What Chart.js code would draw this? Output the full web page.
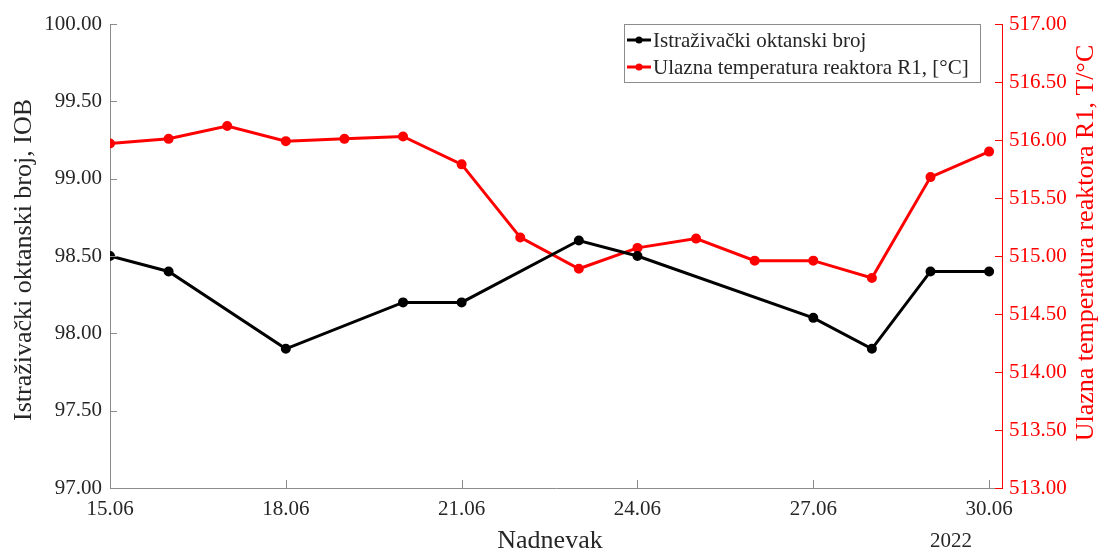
<!DOCTYPE html>
<html>
<head>
<meta charset="utf-8">
<script src="https://cdn.jsdelivr.net/npm/chart.js@4.4.1/dist/chart.umd.min.js"></script>
<style>
  html, body { margin: 0; padding: 0; background: #fff; }
  #wrap { width: 1105px; height: 552px; }
</style>
</head>
<body>
<div id="wrap"><canvas id="chart" width="1105" height="552"></canvas></div>
<script>
// podaci ocitani sa slike (dan u lipnju 2022.)
const iobDays = [15, 16, 18, 20, 21, 23, 24, 27, 28, 29, 30];
const iobValues = [98.5, 98.4, 97.9, 98.2, 98.2, 98.6, 98.5, 98.1, 97.9, 98.4, 98.4];
const tempDays = [15, 16, 17, 18, 19, 20, 21, 22, 23, 24, 25, 26, 27, 28, 29, 30];
const tempValues = [515.97, 516.01, 516.12, 515.99, 516.01, 516.03, 515.79, 515.16, 514.89, 515.07, 515.15, 514.96, 514.96, 514.81, 515.68, 515.90];
const xTickDays = [15, 18, 21, 24, 27, 30];
const xTickLabels = ['15.06', '18.06', '21.06', '24.06', '27.06', '30.06'];
const seriesNames = ['Istraživački oktanski broj', 'Ulazna temperatura reaktora R1, [°C]'];

const FONT = '"Liberation Serif", "DejaVu Serif", serif';
const GRAY = '#8c8c8c';
const TEXT = '#262626';
const RED = '#ff0000';

// spoji dane i vrijednosti u tocke
const toPoints = (xs, ys) => xs.map((x, i) => ({ x: x, y: ys[i] }));

// unutarnje oznake na osima, naslovi osi, legenda i godina
const extrasPlugin = {
  id: 'extras',
  afterDraw(chart) {
    const ctx = chart.ctx;
    const area = chart.chartArea;
    const sx = chart.scales.x, yl = chart.scales.y, yr = chart.scales.y1;
    ctx.save();
    ctx.lineWidth = 1;
    ctx.strokeStyle = GRAY;
    yl.ticks.forEach(t => {
      let py = Math.round(yl.getPixelForValue(t.value)) + 0.5;
      ctx.beginPath(); ctx.moveTo(area.left, py); ctx.lineTo(area.left + 7, py); ctx.stroke();
    });
    sx.ticks.forEach(t => {
      let px = Math.round(sx.getPixelForValue(t.value)) + 0.5;
      ctx.beginPath(); ctx.moveTo(px, area.bottom); ctx.lineTo(px, area.bottom - 8); ctx.stroke();
    });
    ctx.strokeStyle = RED;
    yr.ticks.forEach(t => {
      let py = Math.round(yr.getPixelForValue(t.value)) + 0.5;
      ctx.beginPath(); ctx.moveTo(area.right, py); ctx.lineTo(area.right - 7, py); ctx.stroke();
    });

    // naslovi osi
    ctx.font = '26px ' + FONT;
    ctx.textAlign = 'center';
    ctx.textBaseline = 'middle';
    ctx.fillStyle = TEXT;
    ctx.fillText('Nadnevak', 550, 541);
    ctx.save();
    ctx.translate(24, 260);
    ctx.rotate(-Math.PI / 2);
    ctx.fillText('Istraživački oktanski broj, IOB', 0, 0);
    ctx.restore();
    ctx.save();
    ctx.fillStyle = RED;
    ctx.translate(1086, 243);
    ctx.rotate(-Math.PI / 2);
    ctx.fillText('Ulazna temperatura reaktora R1, T/°C', 0, 0);
    ctx.restore();

    // godina ispod osi
    ctx.font = '21px ' + FONT;
    ctx.fillStyle = TEXT;
    ctx.fillText('2022', 951, 541);

    // legenda
    let lx = 624.5, ly = 24.5, lw = 356, lh = 58;
    ctx.fillStyle = '#fff';
    ctx.fillRect(lx, ly, lw, lh);
    ctx.strokeStyle = GRAY;
    ctx.strokeRect(lx, ly, lw, lh);
    ctx.font = '21px ' + FONT;
    ctx.textAlign = 'left';
    chart.data.datasets.forEach((ds, i) => {
      let cy = 40 + i * 27;
      ctx.strokeStyle = ds.borderColor;
      ctx.lineWidth = 3;
      ctx.beginPath(); ctx.moveTo(627, cy); ctx.lineTo(651, cy); ctx.stroke();
      ctx.fillStyle = ds.borderColor;
      ctx.beginPath(); ctx.arc(639, cy, 3.5, 0, Math.PI * 2); ctx.fill();
      ctx.fillStyle = TEXT;
      ctx.fillText(ds.label, 653, cy + 1);
    });
    ctx.restore();
  }
};

new Chart(document.getElementById('chart'), {
  type: 'line',
  data: {
    datasets: [{
      label: seriesNames[0],
      data: toPoints(iobDays, iobValues),
      yAxisID: 'y',
      borderColor: '#000',
      backgroundColor: '#000',
      borderWidth: 3,
      pointRadius: 3.5,
      pointHoverRadius: 3.5,
      tension: 0
    }, {
      label: seriesNames[1],
      data: toPoints(tempDays, tempValues),
      yAxisID: 'y1',
      borderColor: RED,
      backgroundColor: RED,
      borderWidth: 3,
      pointRadius: 3.5,
      pointHoverRadius: 3.5,
      tension: 0
    }]
  },
  options: {
    responsive: false,
    animation: false,
    layout: { padding: { top: 24, left: 0, right: 0, bottom: 0 } },
    plugins: { legend: { display: false }, tooltip: { enabled: false } },
    scales: {
      x: {
        type: 'linear',
        min: 15,
        max: 30.22,
        afterBuildTicks: (scale) => { scale.ticks = xTickDays.map(v => ({ value: v })); },
        afterFit: (scale) => { scale.height = 64; },
        ticks: {
          autoSkip: false,
          maxRotation: 0,
          padding: 9,
          color: TEXT,
          font: { family: FONT, size: 21 },
          callback: (v) => xTickLabels[xTickDays.indexOf(v)]
        },
        grid: { drawOnChartArea: false, drawTicks: false },
        border: { color: GRAY, width: 1 }
      },
      y: {
        position: 'left',
        min: 97,
        max: 100,
        afterFit: (scale) => { scale.width = 110; },
        ticks: {
          stepSize: 0.5,
          padding: 8,
          color: TEXT,
          font: { family: FONT, size: 21 },
          callback: (v) => v.toFixed(2)
        },
        grid: { drawOnChartArea: false, drawTicks: false },
        border: { color: GRAY, width: 1 }
      },
      y1: {
        position: 'right',
        min: 513,
        max: 517,
        afterFit: (scale) => { scale.width = 103; },
        ticks: {
          stepSize: 0.5,
          padding: 7,
          color: RED,
          font: { family: FONT, size: 21 },
          callback: (v) => v.toFixed(2)
        },
        grid: { drawOnChartArea: false, drawTicks: false },
        border: { color: RED, width: 1 }
      }
    }
  },
  plugins: [extrasPlugin]
});
</script>
</body>
</html>
